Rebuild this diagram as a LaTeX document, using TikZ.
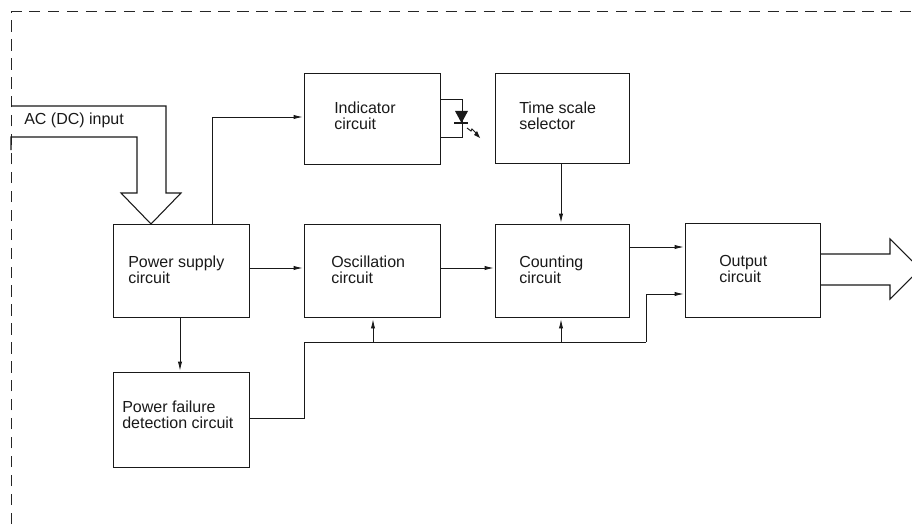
\documentclass[tikz,border=0pt]{standalone}
\usepackage{fontspec}
\setmainfont{Liberation Sans}
\usetikzlibrary{arrows.meta}
\tikzset{
 x=0.75pt,y=-0.75pt,
 lab/.style={anchor=north west,inner sep=0pt,align=left,font=\fontsize{12pt}{12pt}\selectfont,text=black!90},
 conn/.style={draw=black!90,line width=0.7pt,-{Latex[length=7pt,width=3.2pt]},shorten >=0.8pt},
 wire/.style={draw=black!90,line width=0.7pt},
 frame/.style={draw=black!85,line width=0.75pt,dash pattern=on 8.5pt off 5.7pt},
 big/.style={draw=black!90,line width=0.8pt,line join=miter}
}
\newcommand{\blk}[5]{\node[draw=black!90,line width=0.8pt,inner sep=0pt,minimum width=#3*0.75pt,minimum height=#4*0.75pt,anchor=north west] (#5) at (#1,#2) {};}
\begin{document}
\begin{tikzpicture}
\useasboundingbox (0,0) rectangle (912,524);
\coordinate (fa) at (11,524);
\coordinate (fb) at (11,12);
\coordinate (fc) at (912,12);
\draw[frame] (fa) -- (fb) -- (fc);
\blk{113}{224}{135.5}{93}{power}
\blk{304}{73}{136}{91}{indic}
\blk{495}{73}{134}{90}{tsel}
\blk{304}{224}{136}{93}{osc}
\blk{495}{224}{134}{93}{count}
\blk{685}{223}{135}{94}{outp}
\blk{113}{372}{135.5}{95}{fail}
\node[lab] (t1) at (128,256) {Power supply\\circuit};
\node[lab] (t2) at (334,102) {Indicator\\circuit};
\node[lab] (t3) at (519,102) {Time scale\\selector};
\node[lab] (t4) at (331,256) {Oscillation\\circuit};
\node[lab] (t5) at (519,256) {Counting\\circuit};
\node[lab] (t6) at (719,255) {Output\\circuit};
\node[lab] (t7) at (122,401) {Power failure\\detection circuit};
\node[lab] (t8) at (24,113) {AC (DC) input};
% input arrow
\draw[big] (11,106) -- (166,106) -- (166,193) -- (181,193) -- (151,224) -- (121,193) -- (137,193) -- (137,137) -- (11,137) -- (11,150);
% output arrow
\draw[big] (820,254) -- (890,254) -- (890,239) -- (912,261);
\draw[big] (820,285) -- (890,285) -- (890,299) -- (912,277);
% connectors
\coordinate (a2) at (212,117);
\coordinate (m1) at (0,268);
\coordinate (b1) at (0,247);
\coordinate (c0) at (304,418);
\coordinate (c1) at (304,342);
\coordinate (c2) at (646,342);
\coordinate (c3) at (646,294);
\coordinate (e1) at (561,0);
\coordinate (e2) at (373,0);
\coordinate (e3) at (180,0);
\draw[conn] (power.north -| a2) -- (a2) -- (indic.west |- a2);
\draw[conn] (tsel.south -| e1) -- (count.north -| e1);
\draw[conn] (power.east |- m1) -- (osc.west |- m1);
\draw[conn] (osc.east |- m1) -- (count.west |- m1);
\draw[conn] (count.east |- b1) -- (outp.west |- b1);
\draw[conn] (power.south -| e3) -- (fail.north -| e3);
\draw[wire] (fail.east |- c0) -- (c0) -- (c1) -- (c2);
\draw[conn] (c2) -- (c3) -- (outp.west |- c3);
\draw[conn] (c1 -| e2) -- (osc.south -| e2);
\draw[conn] (c1 -| e1) -- (count.south -| e1);
% LED
\coordinate (d1) at (462,99);
\coordinate (d2) at (462,137);
\draw[wire] (indic.east |- d1) -- (d1) -- (d2) -- (indic.east |- d2);
\fill[black!90] (455,111) -- (468,111) -- (461.5,123) -- cycle;
\draw[black!90,line width=1.1pt] (454,123) -- (468,123);
\draw[black!90,line width=0.7pt] (467,128) -- (471,131) -- (472,129) -- (476,133);
\fill[black!90] (480,138) -- (474,135) -- (477,131) -- cycle;
\end{tikzpicture}
\end{document}
